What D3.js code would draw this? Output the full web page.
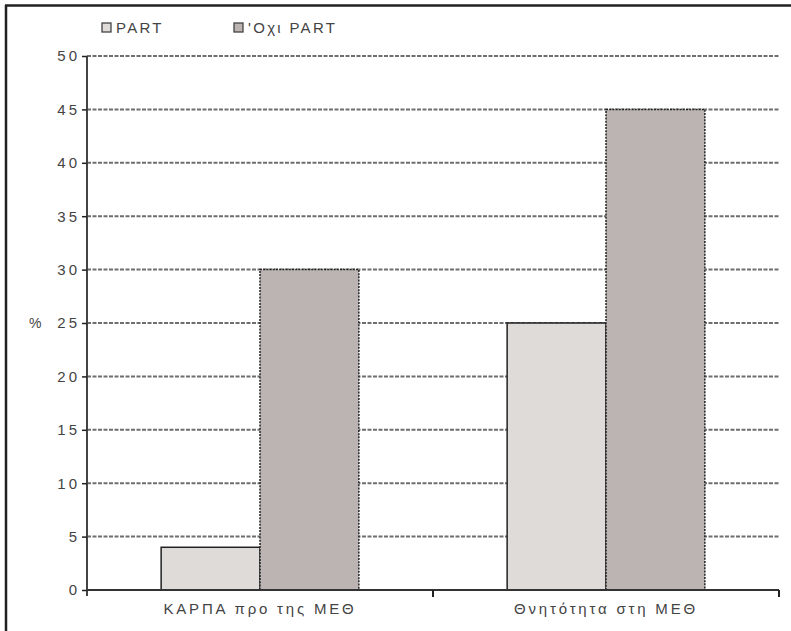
<!DOCTYPE html>
<html>
<head>
<meta charset="utf-8">
<script src="https://cdn.jsdelivr.net/npm/d3@7"></script>
<style>
  html, body { margin: 0; padding: 0; background: #fff; }
  svg { display: block; }
  text { font-family: "Liberation Sans", Arial, sans-serif; fill: #444; }
</style>
</head>
<body>
<script>
// Chart data
const categories = ["ΚΑΡΠΑ προ της ΜΕΘ", "Θνητότητα στη ΜΕΘ"];
const seriesNames = ["PART", "'Οχι PART"];
const partValues = [4, 25];
const noPartValues = [30, 45];
const yTicks = [0, 5, 10, 15, 20, 25, 30, 35, 40, 45, 50];

const W = 791, H = 631;
const margin = { left: 87, right: 12, top: 56, bottom: 41 };
const colors = ["#dfdbd9", "#bcb4b2"];

const svg = d3.select("body").append("svg").attr("width", W).attr("height", H);

// Frame (top and left edges)
svg.append("line").attr("x1", 5).attr("x2", W).attr("y1", 5.5).attr("y2", 5.5)
  .attr("stroke", "#222").attr("stroke-width", 2.5);
svg.append("line").attr("x1", 6).attr("x2", 6).attr("y1", 5).attr("y2", H)
  .attr("stroke", "#222").attr("stroke-width", 2.5);

const x0 = d3.scaleBand().domain(categories)
  .range([margin.left, W - margin.right]).paddingInner(0).paddingOuter(0);
const x1 = d3.scaleBand().domain(seriesNames)
  .range([0, x0.bandwidth()]).paddingInner(0).paddingOuter(0.75);
const y = d3.scaleLinear().domain([0, 50]).range([H - margin.bottom, margin.top]);

// Gridlines
svg.append("g").selectAll("line").data(yTicks.filter(d => d > 0)).join("line")
  .attr("x1", margin.left).attr("x2", W - margin.right)
  .attr("y1", d => y(d)).attr("y2", d => y(d))
  .attr("stroke", "#6e6e6e").attr("stroke-width", 2)
  .attr("stroke-dasharray", "4,1.5");

// Bars
const rows = categories.map((c, i) => ({ cat: c, vals: [partValues[i], noPartValues[i]] }));
const g = svg.append("g").selectAll("g").data(rows).join("g")
  .attr("transform", d => `translate(${x0(d.cat)},0)`);
g.selectAll("rect").data(d => d.vals.map((v, j) => ({ v, j }))).join("rect")
  .attr("x", d => x1(seriesNames[d.j]))
  .attr("y", d => y(d.v))
  .attr("width", x1.bandwidth())
  .attr("height", d => y(0) - y(d.v))
  .attr("fill", d => colors[d.j])
  .attr("stroke", "#222")
  .attr("stroke-width", 1.5)
  .attr("stroke-dasharray", d => d.j === 1 ? "2,1.2" : null);

// Y axis
const yAxis = svg.append("g").attr("transform", `translate(${margin.left},0)`)
  .call(d3.axisLeft(y).tickValues(yTicks).tickSize(5).tickPadding(2));
yAxis.select(".domain").attr("stroke", "#444").attr("stroke-width", 2)
  .attr("d", `M0,${y(50)}V${y(0) + 6}`);
yAxis.selectAll(".tick line").attr("stroke", "#222").attr("stroke-width", 1.5);
yAxis.selectAll(".tick text").style("font-size", "15px").style("letter-spacing", "3px")
  .style("font-family", "Liberation Sans, Arial, sans-serif").attr("fill", "#555");

svg.append("text").attr("x", 29).attr("y", y(25)).attr("dy", "0.35em")
  .style("font-size", "14px").attr("fill", "#555").text("%");

// X axis
const xAxis = svg.append("g").attr("transform", `translate(0,${y(0)})`)
  .call(d3.axisBottom(x0).tickSize(0).tickPadding(13));
xAxis.select(".domain").attr("stroke", "#333").attr("stroke-width", 2)
  .attr("d", `M${margin.left},0H${W - margin.right}`);
xAxis.selectAll(".tick text").style("font-size", "15px").style("letter-spacing", "2.8px")
  .style("font-family", "Liberation Sans, Arial, sans-serif").attr("fill", "#555");
const bounds = [x0.range()[0] + x0.bandwidth(), x0.range()[1]];
svg.append("g").selectAll("line").data(bounds).join("line")
  .attr("x1", d => d).attr("x2", d => d)
  .attr("y1", y(0)).attr("y2", y(0) + 7)
  .attr("stroke", "#222").attr("stroke-width", 2);

// Legend
const legendX = [102, 234];
const lg = svg.append("g").selectAll("g").data(seriesNames).join("g")
  .attr("transform", (d, i) => `translate(${legendX[i]},23)`);
lg.append("rect").attr("width", 9).attr("height", 9)
  .attr("fill", (d, i) => colors[i]).attr("stroke", "#444").attr("stroke-width", 1.3);
lg.append("text").attr("x", 14).attr("y", 4.5).attr("dy", "0.35em")
  .style("font-size", "15px").style("letter-spacing", "2.3px").attr("fill", "#555").text(d => d);
</script>
</body>
</html>
